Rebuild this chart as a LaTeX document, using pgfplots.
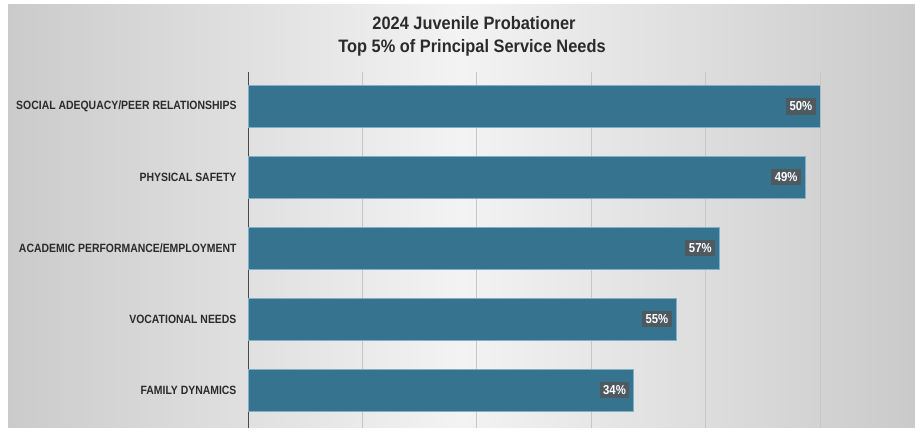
\documentclass[border=0pt]{standalone}
\usepackage{pgfplots}
\pgfplotsset{compat=1.18}
\usepackage{pgfplotstable}
\usepackage{fontspec}
\setmainfont{Liberation Sans}
\newfontfamily\condfont{Liberation Sans}[FakeStretch=0.87]
\newfontfamily\titlefont{Liberation Sans}[FakeStretch=0.91]
\definecolor{barblue}{HTML}{35738F}
\definecolor{baredge}{HTML}{7FB0C8}
\definecolor{lblbox}{HTML}{4E5A60}
\definecolor{gridc}{HTML}{C6C6C6}
\definecolor{axisc}{HTML}{4A4A4A}
\definecolor{bgL}{HTML}{CBCBCB}
\definecolor{bgM}{HTML}{F3F3F3}
\definecolor{bgR}{HTML}{CACACA}
\definecolor{titlec}{HTML}{2B2B2B}
\pgfplotstableread{
y x lab
4 50.0 50
3 48.7 49
2 41.2 57
1 37.4 55
0 33.7 34
}\datatab
\begin{document}
\begin{tikzpicture}[x=1pt,y=1pt]
\fill[white] (0,0) rectangle (915,428);
\shade[left color=bgL, right color=bgR, middle color=bgM] (8,0) rectangle (915,423);
\node[anchor=base, font=\titlefont\fontsize{18}{20}\selectfont\bfseries, text=titlec, inner sep=0pt] at (474,398) {2024 Juvenile Probationer};
\node[anchor=base, font=\titlefont\fontsize{18}{20}\selectfont\bfseries, text=titlec, inner sep=0pt] at (472,375) {Top 5\% of Principal Service Needs};
\begin{axis}[
  at={(248pt,0pt)}, anchor=south west,
  width=572pt, height=356pt, scale only axis,
  xmin=0, xmax=50, ymin=-0.535, ymax=4.486,
  axis line style={draw=none},
  xtick={10,20,30,40,50}, xticklabels={},
  xmajorgrids, grid style={gridc, line width=0.9pt},
  extra x ticks={0}, extra x tick labels={},
  extra x tick style={grid style={axisc, line width=0.9pt}},
  ytick={0,1,2,3,4},
  yticklabels={FAMILY DYNAMICS, VOCATIONAL NEEDS, ACADEMIC PERFORMANCE/EMPLOYMENT, PHYSICAL SAFETY, SOCIAL ADEQUACY/PEER RELATIONSHIPS},
  major tick length=0pt,
  yticklabel style={font=\condfont\fontsize{12}{14}\selectfont\bfseries, text=titlec, xshift=-8pt},
]
\addplot[xbar, bar width=0.59, fill=barblue, draw=baredge, line width=0.4pt,
  point meta=explicit symbolic,
  nodes near coords={\pgfplotspointmeta\%},
  nodes near coords style={anchor=east, xshift=-4pt, fill=lblbox, text=white,
    font=\condfont\fontsize{13}{15}\selectfont\bfseries, inner sep=3.5pt}]
  table[x=x, y=y, meta=lab] {\datatab};
\end{axis}
\end{tikzpicture}
\end{document}
